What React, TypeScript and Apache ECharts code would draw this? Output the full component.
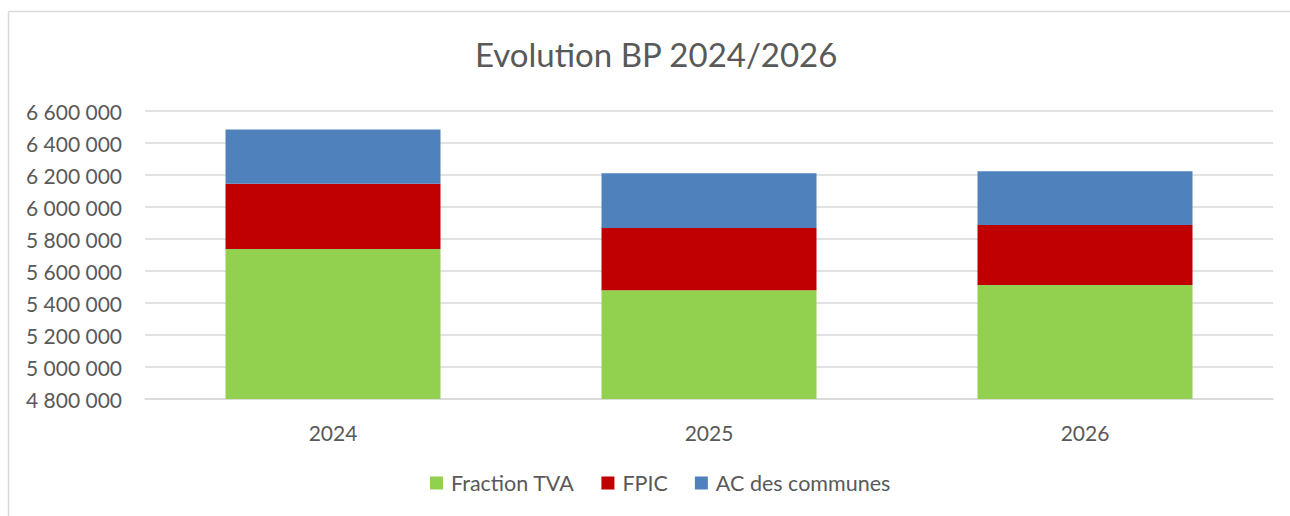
import React, { useEffect, useRef } from "react";
import * as echarts from "echarts";

const categories = ["2024", "2025", "2026"];
const fractionTVA = [5738000, 5480000, 5512000];
const fpic = [408000, 389000, 376000];
const acCommunes = [339000, 342000, 335000];

const FONT = "Lato";
const TXT = "#595959";

function fmt(v: number): string {
  return String(Math.round(v)).replace(/\B(?=(\d{3})+(?!\d))/g, " ");
}

export default function App() {
  const ref = useRef<HTMLDivElement>(null);
  useEffect(() => {
    if (!ref.current) return;
    const chart = echarts.init(ref.current, null, { renderer: "svg" });
    chart.setOption({
      animation: false,
      backgroundColor: "#ffffff",
      title: {
        text: "Evolution BP 2024/2026",
        left: 475,
        top: 37,
        padding: 0,
        textStyle: { fontFamily: FONT, fontSize: 33, fontWeight: "normal", color: TXT },
      },
      graphic: [
        { type: "line", shape: { x1: 8.5, y1: 11.5, x2: 8.5, y2: 516 }, style: { stroke: "#d9d9d9", lineWidth: 1.5 } },
        { type: "line", shape: { x1: 8.5, y1: 11.5, x2: 1290, y2: 11.5 }, style: { stroke: "#d9d9d9", lineWidth: 1.5 } },
      ],
      legend: {
        bottom: 22,
        left: 430,
        padding: 0,
        itemWidth: 13,
        itemHeight: 13,
        itemGap: 27,
        icon: "rect",
        textStyle: { fontFamily: FONT, fontSize: 21.5, color: TXT, padding: [0, 0, 0, 3] },
        data: ["Fraction TVA", "FPIC", "AC des communes"],
      },
      grid: { left: 145, right: 17, top: 111, bottom: 117 },
      xAxis: {
        type: "category",
        data: categories,
        axisLine: { show: true, lineStyle: { color: "#d9d9d9", width: 1.5 } },
        axisTick: { show: false },
        axisLabel: { fontFamily: FONT, fontSize: 21, color: TXT, margin: 23 },
      },
      yAxis: {
        type: "value",
        min: 4800000,
        max: 6600000,
        interval: 200000,
        axisLine: { show: false },
        axisTick: { show: false },
        splitLine: { lineStyle: { color: "#d9d9d9", width: 1.5 } },
        axisLabel: { fontFamily: FONT, fontSize: 21, color: TXT, margin: 23, formatter: (v: number) => fmt(v) },
      },
      series: [
        { name: "Fraction TVA", type: "bar", stack: "t", data: fractionTVA, barWidth: 215, itemStyle: { color: "#92D050" } },
        { name: "FPIC", type: "bar", stack: "t", data: fpic, barWidth: 215, itemStyle: { color: "#C00000" } },
        { name: "AC des communes", type: "bar", stack: "t", data: acCommunes, barWidth: 215, itemStyle: { color: "#4F81BD" } },
      ],
    });
    return () => chart.dispose();
  }, []);
  return (
    <div
      ref={ref}
      style={{ position: "absolute", left: 0, top: 0, width: 1290, height: 516 }}
    />
  );
}
